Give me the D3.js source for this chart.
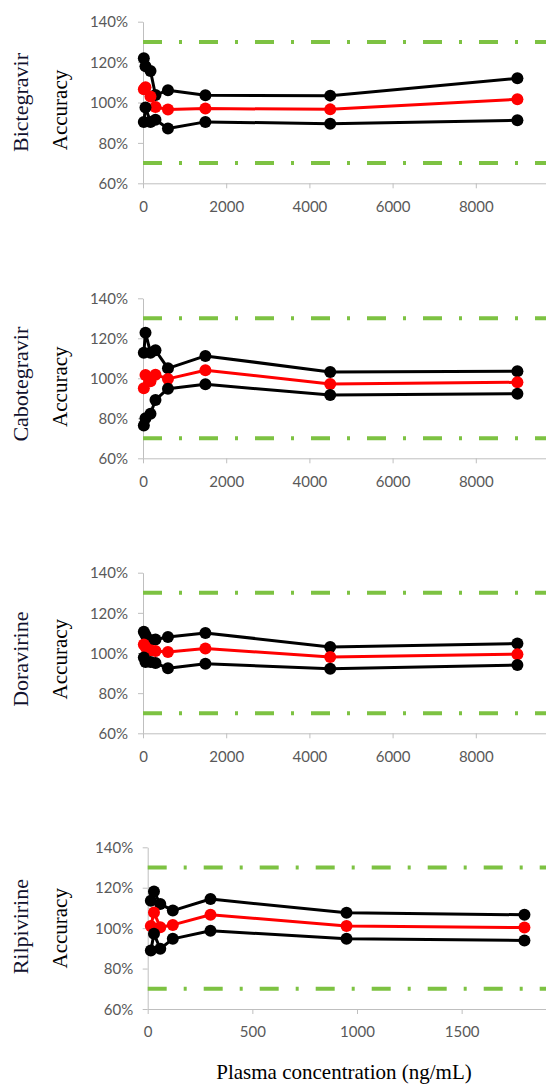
<!DOCTYPE html>
<html>
<head>
<meta charset="utf-8">
<script src="https://cdn.jsdelivr.net/npm/d3@7"></script>
<style>
  html, body { margin: 0; padding: 0; background: #fff; }
  svg { display: block; }
  .tick text { font-family: Lato, "Open Sans", sans-serif; font-size: 15px; fill: #595959; }
  .axis path, .axis line { stroke: #bfbfbf; stroke-width: 1; }
</style>
</head>
<body>
<svg id="chart" width="546" height="1085"></svg>
<script>
// Accuracy (%) of each analyte across plasma concentrations (ng/mL):
// upper and lower bounds (black) around the mean (red).
const drugNames = ["Bictegravir", "Cabotegravir", "Doravirine", "Rilpivirine"];

const bicConc = [20, 60, 180, 300, 600, 1500, 4500, 9000];
const bicHigh = [121.9, 118.0, 115.6, 103.7, 106.1, 103.6, 103.4, 112.0];
const bicMean = [106.6, 107.5, 103.0, 97.8, 96.5, 97.0, 96.6, 101.6];
const bicLow  = [90.4, 97.5, 90.4, 91.5, 87.1, 90.4, 89.5, 91.2];

const cabConc = [20, 60, 180, 300, 600, 1500, 4500, 9000];
const cabHigh = [112.8, 122.8, 112.8, 114.0, 105.0, 111.2, 103.2, 103.5];
const cabMean = [95.0, 101.6, 98.5, 101.8, 99.7, 104.0, 97.2, 98.0];
const cabLow  = [76.4, 80.0, 82.3, 89.2, 94.8, 97.0, 91.6, 92.3];

const doraConc = [20, 60, 180, 300, 600, 1500, 4500, 9000];
const doraHigh = [110.6, 109.0, 106.5, 106.7, 108.0, 110.0, 103.0, 104.7];
const doraMean = [104.2, 103.0, 101.4, 101.0, 100.5, 102.2, 98.0, 99.4];
const doraLow  = [97.7, 95.5, 95.5, 95.0, 92.4, 94.6, 92.2, 94.0];

const rilConc = [15, 30, 60, 120, 300, 950, 1800];
const rilHigh = [113.5, 118.1, 112.0, 108.7, 114.4, 107.6, 106.6];
const rilMean = [101.1, 107.7, 100.5, 101.6, 106.6, 101.1, 100.3];
const rilLow  = [88.9, 97.2, 89.8, 94.7, 98.7, 94.7, 93.9];

const yTicks = [60, 80, 100, 120, 140];
const limits = [130, 70];
const xTicksWide = [0, 2000, 4000, 6000, 8000];
const xTicksNarrow = [0, 500, 1000, 1500];
const axisTitle = "Plasma concentration (ng/mL)";
const yTitle = "Accuracy";

const datasets = [
  { conc: bicConc, high: bicHigh, mean: bicMean, low: bicLow, xMax: 10000, xTicks: xTicksWide },
  { conc: cabConc, high: cabHigh, mean: cabMean, low: cabLow, xMax: 10000, xTicks: xTicksWide },
  { conc: doraConc, high: doraHigh, mean: doraMean, low: doraLow, xMax: 10000, xTicks: xTicksWide },
  { conc: rilConc, high: rilHigh, mean: rilMean, low: rilLow, xMax: 2000, xTicks: xTicksNarrow }
];

// Panel placement on the page
const layout = [
  { x0: 143, x1: 559, yTop: 21.7, yBot: 183.3, nameX: 28, nameY: 102.5, accX: 67, accY: 110 },
  { x0: 143, x1: 559, yTop: 298.3, yBot: 458.3, nameX: 28, nameY: 384.2, accX: 67, accY: 386.7 },
  { x0: 143, x1: 559, yTop: 572.7, yBot: 733.3, nameX: 28, nameY: 659.2, accX: 67, accY: 659.2 },
  { x0: 147.7, x1: 566.3, yTop: 847.3, yBot: 1009, nameX: 28, nameY: 926.7, accX: 67, accY: 928.3 }
];

const svg = d3.select("#chart");
svg.append("rect").attr("width", 546).attr("height", 1085).attr("fill", "#fff");

datasets.forEach((ds, i) => {
  const L = layout[i];
  const x = d3.scaleLinear().domain([0, ds.xMax]).range([L.x0, L.x1]);
  const y = d3.scaleLinear().domain([60, 140]).range([L.yBot, L.yTop]);
  const g = svg.append("g");

  // y axis
  const ya = g.append("g").attr("class", "axis")
    .attr("transform", `translate(${L.x0},0)`)
    .call(d3.axisLeft(y).tickValues(yTicks).tickFormat(d => d + "%").tickSize(5).tickSizeOuter(0));
  ya.selectAll(".tick text").attr("x", i === 3 ? -14.5 : -15).attr("dy", "0.35em");

  // x axis
  const xa = g.append("g").attr("class", "axis")
    .attr("transform", `translate(0,${L.yBot})`)
    .call(d3.axisBottom(x).tickValues(ds.xTicks).tickFormat(d => String(d)).tickSize(5).tickSizeOuter(0));
  xa.selectAll(".tick text").attr("y", 23).attr("dy", "0.35em");

  // acceptance limits
  const limitLine = d3.line().x(d => x(d[0])).y(d => y(d[1]));
  limits.forEach(v => {
    g.append("path")
      .attr("d", limitLine([[0, v], [ds.xMax, v]]))
      .attr("stroke", "#7dc242")
      .attr("stroke-width", 4)
      .attr("stroke-dasharray", "19,17,3,17")
      .attr("fill", "none");
  });

  // series
  const series = [
    { vals: ds.high, color: "#000" },
    { vals: ds.mean, color: "#ff0000" },
    { vals: ds.low, color: "#000" }
  ];
  const line = d3.line().x(d => x(d.c)).y(d => y(d.v));
  series.forEach(s => {
    const pts = ds.conc.map((c, k) => ({ c, v: s.vals[k] }));
    g.append("path")
      .attr("d", line(pts))
      .attr("fill", "none")
      .attr("stroke", s.color)
      .attr("stroke-width", 3)
      .attr("stroke-linejoin", "round");
    g.selectAll(null).data(pts).enter().append("circle")
      .attr("cx", d => x(d.c))
      .attr("cy", d => y(d.v))
      .attr("r", 6)
      .attr("fill", s.color);
  });

  // panel labels
  g.append("text")
    .attr("transform", `translate(${L.nameX},${L.nameY}) rotate(-90)`)
    .attr("text-anchor", "middle")
    .attr("font-family", "'Liberation Serif', 'Times New Roman', serif")
    .attr("font-size", 22)
    .attr("fill", "#12122e")
    .text(drugNames[i]);
  g.append("text")
    .attr("transform", `translate(${L.accX},${L.accY}) rotate(-90)`)
    .attr("text-anchor", "middle")
    .attr("font-family", "'Liberation Serif', 'Times New Roman', serif")
    .attr("font-size", 21)
    .attr("fill", "#000")
    .text(yTitle);
});

svg.append("text")
  .attr("x", 344)
  .attr("y", 1079)
  .attr("text-anchor", "middle")
  .attr("font-family", "'Liberation Serif', 'Times New Roman', serif")
  .attr("font-size", 21)
  .attr("fill", "#000")
  .text(axisTitle);
</script>
</body>
</html>
